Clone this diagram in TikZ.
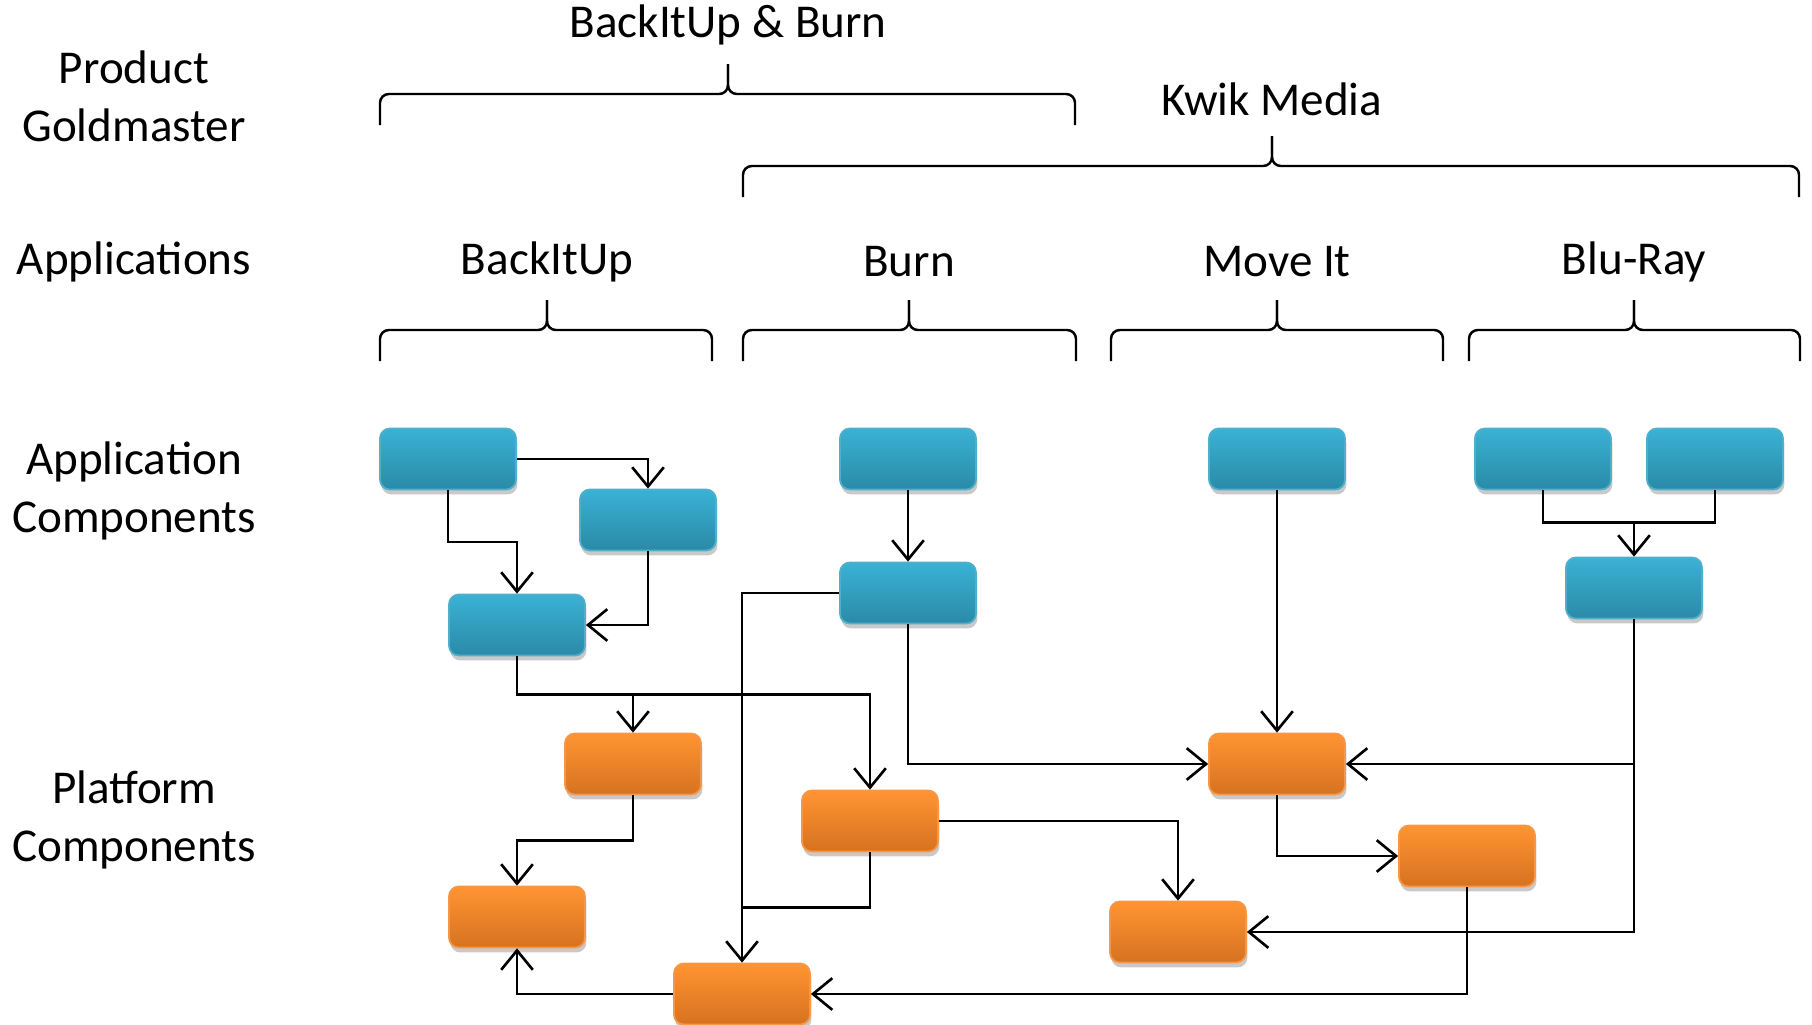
\documentclass[tikz,border=0pt]{standalone}
\usepackage{fontspec}
\setmainfont{Carlito}
\usetikzlibrary{arrows.meta,calc,shadows}

\definecolor{appTop}{RGB}{58,178,213}
\definecolor{appBot}{RGB}{42,138,167}
\definecolor{appLine}{RGB}{80,175,202}
\definecolor{pfTop}{RGB}{255,148,50}
\definecolor{pfBot}{RGB}{214,114,32}
\definecolor{pfLine}{RGB}{247,150,70}

\tikzset{
  box/.style={rounded corners=2.8pt, minimum width=1.36cm, minimum height=0.61cm,
    inner sep=0pt, line width=0.5pt,
    drop shadow={shadow xshift=0.4pt, shadow yshift=-1.4pt, opacity=0.3, fill=black!70}},
  appbox/.style={box, draw=appLine, top color=appTop, bottom color=appBot},
  pfbox/.style={box, draw=pfLine, top color=pfTop, bottom color=pfBot},
  conn/.style={line width=0.75pt, -{Straight Barb[length=5.5pt,width=9pt]}},
  link/.style={line width=0.75pt},
  brace/.style={line width=0.7pt, rounded corners=2.5pt},
  lbl/.style={font=\fontsize{13.4}{16.5}\selectfont, inner sep=0pt},
  side/.style={lbl, align=center}
}

% group brace: left x, right x, tip x, y of the bar
\newcommand{\grpbrace}[4]{%
  \draw[brace] (#1,#4-0.31) |- (#3,#4) -- (#3,#4+0.30);
  \draw[brace] (#2,#4-0.31) |- (#3,#4) -- (#3,#4+0.30);
}

\begin{document}
\begin{tikzpicture}
\useasboundingbox (0,0) rectangle (18.12,-10.24);

% row titles
\node[side] (tgold) at (1.34,-0.96) {Product\\Goldmaster};
\node[side] (tapps) at (1.34,-2.62) {Applications};
\node[side] (tacomp) at (1.34,-4.91) {Application\\Components};
\node[side] (tpcomp) at (1.34,-8.20) {Platform\\Components};

% products
\node[lbl] (gbb) at (7.28,-0.25) {BackItUp \& Burn};
\grpbrace{3.80}{10.75}{7.28}{-0.94}
\node[lbl] (gkm) at (12.72,-0.99) {Kwik Media};
\grpbrace{7.43}{17.99}{12.72}{-1.66}

% applications
\node[lbl] (abk) at (5.47,-2.62) {BackItUp};
\grpbrace{3.80}{7.12}{5.47}{-3.30}
\node[lbl] (abu) at (9.09,-2.62) {Burn};
\grpbrace{7.43}{10.76}{9.09}{-3.30}
\node[lbl] (amv) at (12.77,-2.62) {Move It};
\grpbrace{11.11}{14.43}{12.77}{-3.30}
\node[lbl] (abl) at (16.34,-2.62) {Blu-Ray};
\grpbrace{14.69}{18.00}{16.34}{-3.30}

% application components
\node[appbox] (bk1) at (4.48,-4.59) {};
\node[appbox] (bk2) at (6.48,-5.20) {};
\node[appbox] (bk3) at (5.17,-6.25) {};
\node[appbox] (bu1) at (9.08,-4.59) {};
\node[appbox] (bu2) at (9.08,-5.93) {};
\node[appbox] (mv1) at (12.77,-4.59) {};
\node[appbox] (bl1) at (15.43,-4.59) {};
\node[appbox] (bl2) at (17.15,-4.59) {};
\node[appbox] (bl3) at (16.34,-5.88) {};

% platform components
\node[pfbox] (pf1) at (6.33,-7.64) {};
\node[pfbox] (pf2) at (8.70,-8.21) {};
\node[pfbox] (pf3) at (12.77,-7.64) {};
\node[pfbox] (pf4) at (14.67,-8.56) {};
\node[pfbox] (pf5) at (5.17,-9.17) {};
\node[pfbox] (pf6) at (11.78,-9.32) {};
\node[pfbox] (pf7) at (7.42,-9.94) {};

% BackItUp
\draw[conn] (bk1.east) -| (bk2.north);
\draw[conn] (bk1.south) |- ($(bk1.south)!.5!(bk3.north)$) -| (bk3.north);
\draw[conn] (bk2.south) |- (bk3.east);
\coordinate (bkjoin) at ($(bk3.south)!.5!(pf1.north)$);
\draw[conn] (bk3.south) |- (bkjoin) -| (pf2.north);
\draw[conn] (bkjoin) -| (pf1.north);

% Burn
\draw[conn] (bu1) -- (bu2);
\draw[conn] (bu2.west) -| (pf7.north);
\draw[conn] (bu2.south) |- (pf3.west);

% Move It
\draw[conn] (mv1) -- (pf3);

% Blu-Ray
\coordinate (bljoin) at ($(bl3.north)+(0,0.34)$);
\draw[link] (bl1.south) |- (bljoin);
\draw[link] (bl2.south) |- (bljoin);
\draw[conn] (bljoin) -- (bl3.north);
\draw[conn] (bl3.south) |- (pf3.east);
\draw[conn] (bl3.south) |- (pf6.east);

% platform
\draw[conn] (pf3.south) |- (pf4.west);
\draw[conn] (pf2.east) -| (pf6.north);
\coordinate (pfjoin) at ($(pf2.south)!.5!(pf7.north)$);
\draw[link] (pf2.south) |- (pfjoin) -- (pfjoin -| pf7.north);
\draw[conn] (pf1.south) |- ($(pf1.south)!.5!(pf5.north)$) -| (pf5.north);
\draw[conn] (pf4.south) |- (pf7.east);
\draw[conn] (pf7.west) -| (pf5.south);

\end{tikzpicture}
\end{document}
